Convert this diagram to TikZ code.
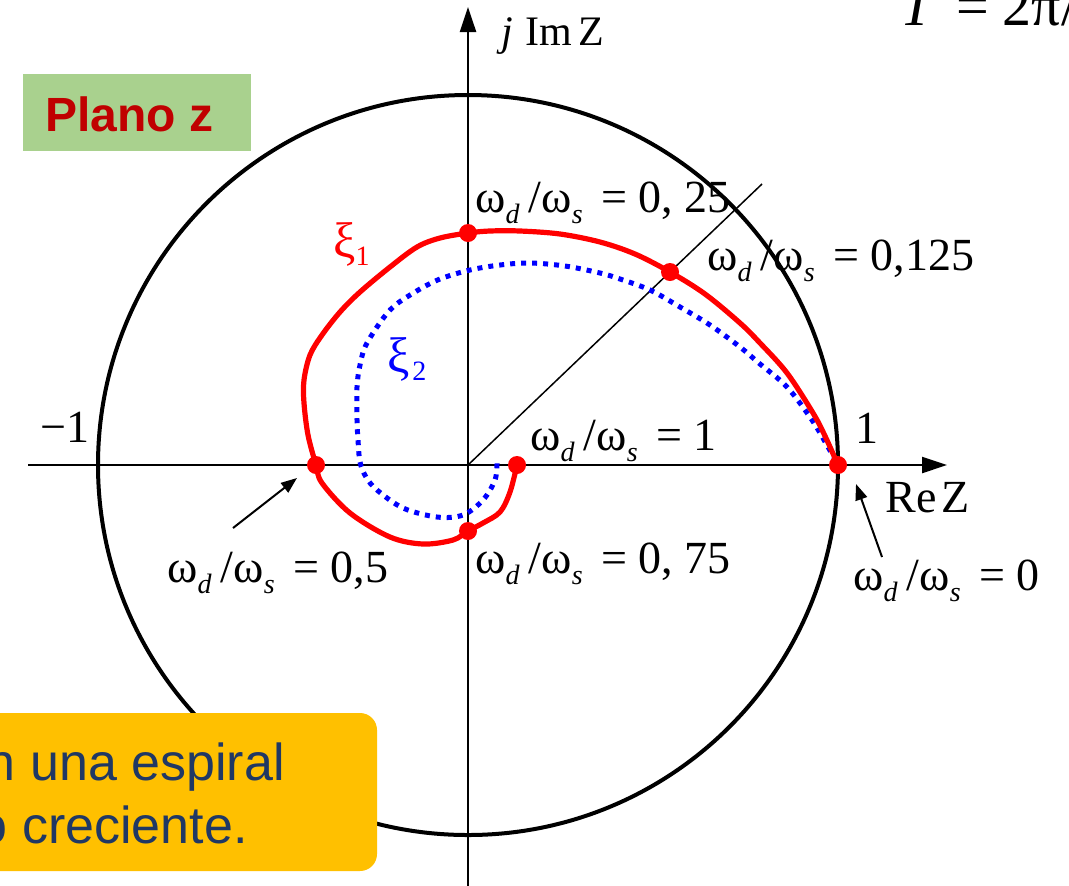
\documentclass[tikz,border=0pt]{standalone}
\usepackage{fontspec}
\setmainfont{Liberation Serif}
\newfontfamily\arialfont{Liberation Sans}
\usetikzlibrary{arrows.meta}
\definecolor{plgreen}{HTML}{A9D18E}
\definecolor{pldark}{HTML}{C00000}
\definecolor{boxyellow}{HTML}{FFC000}
\definecolor{navytext}{HTML}{203864}
\newcommand{\wsubs}[1]{\raisebox{-5.5pt}{\fontsize{14}{14}\selectfont\itshape #1}}
\newcommand{\wlabel}[1]{ω\wsubs{d}\hspace{0.2em}/ω\wsubs{s}\hspace{0.4em}=\hspace{0.25em}#1}
\begin{document}
\begin{tikzpicture}[x=0.5pt,y=-0.5pt,
  axisline/.style={line width=1.2pt,-{Triangle[length=12.5pt,width=8pt]}},
  pointer/.style={line width=1pt,-{Triangle[length=8pt,width=6pt]}},
  rdot/.style={circle,fill=red,inner sep=0pt,minimum size=9pt},
  lab/.style={anchor=base west,inner sep=0pt,font=\fontsize{23}{27}\selectfont},
  redcurve/.style={red,line width=2.6pt},
  bluecurve/.style={blue,line width=2.5pt,dash pattern=on 2.5pt off 3pt}]
\useasboundingbox (0,0) rectangle (1069,885);
% unit circle
\node[circle,draw,line width=2pt,minimum size=370pt,inner sep=0pt] (unit) at (468,465) {};
% axes
\coordinate (O) at (468,465);
\coordinate (xl) at (28,465);
\coordinate (xr) at (947,465);
\coordinate (yb) at (468,895);
\coordinate (yt) at (468,7);
\draw[axisline] (xl) -- (xr);
\draw[axisline] (yb) -- (yt);
\coordinate (diagend) at (762,184);
\draw[line width=0.75pt] (O) -- (diagend);
% curves
\draw[bluecurve] plot[smooth,tension=0.55] coordinates {(836,461) (828,447) (812,420) (787,387) (760,364) (740,347) (710,325) (680,307) (650,290) (620,279) (600,273) (565,266) (530,263) (500,265) (470,270) (440,279) (415,292) (390,310) (367,343) (360,365) (357,387) (357,420) (358,440) (360,462) (366,477) (377,490) (403,508) (437,517) (463,515) (483,500) (495,480) (497,463)};
\draw[redcurve] plot[smooth,tension=0.55] coordinates {(838,465) (825,436) (813,413) (787,373) (760,343) (740,323) (705,294) (670,272) (635,254) (600,242) (560,234) (520,231) (490,231) (468,233) (440,238) (417,247) (390,267) (360,292) (340,312) (322,335) (310,355) (304,380) (304,403) (308,435) (316,465) (322,483) (350,513) (390,537) (423,544) (453,540) (468,531) (483,523) (500,512) (510,492) (517,465)};
% dots
\node[rdot] (d0) at (838,465) {};
\node[rdot] (d0125) at (670,272) {};
\node[rdot] (d025) at (468,233) {};
\node[rdot] (d05) at (316,465) {};
\node[rdot] (d075) at (468,531) {};
\node[rdot] (d1) at (517,465) {};
% labels
\node[lab] (l025) at (475,212) {\wlabel{0,\hspace{0.25em}25}};
\node[lab] (l0125) at (707,270) {\wlabel{0,125}};
\node[lab] (l1) at (530,450) {\wlabel{1}};
\node[lab] (l075) at (475,573) {\wlabel{0,\hspace{0.25em}75}};
\node[lab] (l05) at (167,582) {\wlabel{0,5}};
\node[lab] (l0) at (853,590) {\wlabel{0}};
\node[lab] (lm1) at (40,442) {−1};
\node[lab] (lp1) at (855,443) {1};
\node[lab] (lre) at (885,512) {Re\hspace{0.12em}Z};
\node[lab,font=\fontsize{21}{25}\selectfont] (lim) at (501,45) {\textit{j}\hspace{0.3em}Im\hspace{0.15em}Z};
\node[lab,text=red,font=\fontsize{25}{29}\selectfont] (xi1) at (333,257) {ξ\raisebox{-4pt}{\fontsize{14}{14}\selectfont 1}};
\node[lab,text=blue,font=\fontsize{25}{29}\selectfont] (xi2) at (387,372) {ξ\raisebox{-4pt}{\fontsize{14}{14}\selectfont\hspace{0.1em}2}};
\node[lab,font=\fontsize{29}{34}\selectfont] (tper) at (900,25) {\textit{T}\hspace{10pt}=\hspace{7pt}2π/};
% pointers
\coordinate (tail05) at (233,528);
\coordinate (tip05) at (297,478);
\draw[pointer] (tail05) -- (tip05);
\coordinate (tail0) at (882,557);
\coordinate (tip0) at (856,484);
\draw[pointer] (tail0) -- (tip0);
% Plano z box
\node[fill=plgreen,minimum width=114pt,minimum height=38.5pt,inner sep=0pt] (plano) at (137,112.5) {};
\node[anchor=base west,inner sep=0pt,text=pldark,font=\arialfont\bfseries\fontsize{24}{28}\selectfont] (planotxt) at (45,131) {Plano z};
% yellow note box
\node[fill=boxyellow,rounded corners=8.5pt,minimum width=210pt,minimum height=79pt,inner sep=0pt] (note) at (167,792) {};
\node[anchor=base west,inner sep=0pt,text=navytext,font=\arialfont\fontsize{26}{30}\selectfont] (note1) at (-13.5,780) {n una espiral};
\node[anchor=base west,inner sep=0pt,text=navytext,font=\arialfont\fontsize{26}{30}\selectfont] (note2) at (-21.5,843) {o creciente.};
\end{tikzpicture}
\end{document}
